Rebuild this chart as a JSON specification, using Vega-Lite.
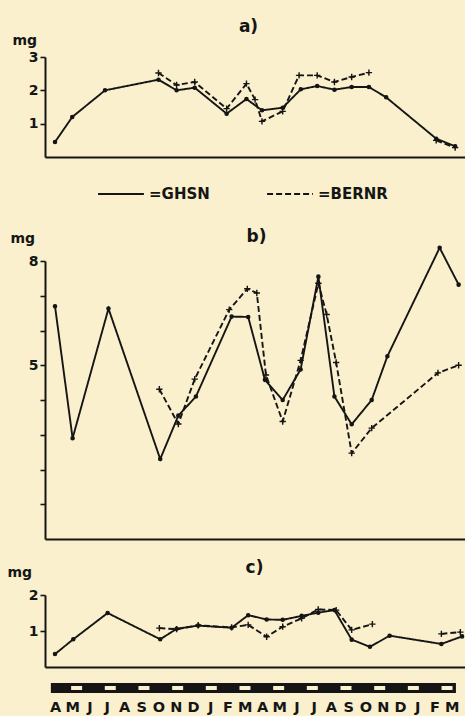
{
  "$schema": "https://vega.github.io/schema/vega-lite/v6.json",
  "width": 420,
  "height": 667,
  "autosize": {"type": "none"},
  "padding": {"left": 45, "top": 0, "right": 0, "bottom": 49},
  "background": "#faf0cd",
  "config": {
    "view": {"stroke": null},
    "font": "DejaVu Sans",
    "axis": {
      "domainColor": "#151515", "domainWidth": 2, "tickColor": "#151515", "tickWidth": 1.6, "tickSize": 5,
      "labelColor": "#151515", "labelFont": "DejaVu Sans", "labelFontWeight": "bold", "labelFontSize": 14,
      "labelPadding": 2, "titleColor": "#151515", "titleFont": "DejaVu Sans", "titleFontWeight": "bold", "grid": false
    }
  },
  "datasets": {
    "obs": [
      {"panel": "a", "series": "GHSN", "run": 1, "m": 0, "v": 0.45},
      {"panel": "a", "series": "GHSN", "run": 1, "m": 1.0, "v": 1.2},
      {"panel": "a", "series": "GHSN", "run": 1, "m": 2.9, "v": 2.0},
      {"panel": "a", "series": "GHSN", "run": 1, "m": 6.0, "v": 2.32},
      {"panel": "a", "series": "GHSN", "run": 1, "m": 7.05, "v": 2.0},
      {"panel": "a", "series": "GHSN", "run": 1, "m": 8.1, "v": 2.08},
      {"panel": "a", "series": "GHSN", "run": 1, "m": 9.95, "v": 1.3},
      {"panel": "a", "series": "GHSN", "run": 1, "m": 11.1, "v": 1.74},
      {"panel": "a", "series": "GHSN", "run": 1, "m": 12.0, "v": 1.4},
      {"panel": "a", "series": "GHSN", "run": 1, "m": 13.2, "v": 1.48},
      {"panel": "a", "series": "GHSN", "run": 1, "m": 14.25, "v": 2.03},
      {"panel": "a", "series": "GHSN", "run": 1, "m": 15.2, "v": 2.13},
      {"panel": "a", "series": "GHSN", "run": 1, "m": 16.2, "v": 2.02},
      {"panel": "a", "series": "GHSN", "run": 1, "m": 17.2, "v": 2.1},
      {"panel": "a", "series": "GHSN", "run": 1, "m": 18.2, "v": 2.1},
      {"panel": "a", "series": "GHSN", "run": 1, "m": 19.2, "v": 1.79},
      {"panel": "a", "series": "GHSN", "run": 1, "m": 22.1, "v": 0.55},
      {"panel": "a", "series": "GHSN", "run": 1, "m": 23.2, "v": 0.32},
      {"panel": "a", "series": "BERNR", "run": 1, "m": 6.0, "v": 2.52},
      {"panel": "a", "series": "BERNR", "run": 1, "m": 7.05, "v": 2.16},
      {"panel": "a", "series": "BERNR", "run": 1, "m": 8.1, "v": 2.25},
      {"panel": "a", "series": "BERNR", "run": 1, "m": 9.95, "v": 1.45},
      {"panel": "a", "series": "BERNR", "run": 1, "m": 11.1, "v": 2.2},
      {"panel": "a", "series": "BERNR", "run": 1, "m": 11.6, "v": 1.72},
      {"panel": "a", "series": "BERNR", "run": 1, "m": 12.0, "v": 1.07},
      {"panel": "a", "series": "BERNR", "run": 1, "m": 13.2, "v": 1.37},
      {"panel": "a", "series": "BERNR", "run": 1, "m": 14.15, "v": 2.45},
      {"panel": "a", "series": "BERNR", "run": 1, "m": 15.2, "v": 2.45},
      {"panel": "a", "series": "BERNR", "run": 1, "m": 16.2, "v": 2.25},
      {"panel": "a", "series": "BERNR", "run": 1, "m": 17.2, "v": 2.4},
      {"panel": "a", "series": "BERNR", "run": 1, "m": 18.2, "v": 2.53},
      {"panel": "a", "series": "BERNR", "run": 2, "m": 22.1, "v": 0.5},
      {"panel": "a", "series": "BERNR", "run": 2, "m": 23.2, "v": 0.28},

      {"panel": "b", "series": "GHSN", "run": 1, "m": 0, "v": 6.7},
      {"panel": "b", "series": "GHSN", "run": 1, "m": 1.02, "v": 2.9},
      {"panel": "b", "series": "GHSN", "run": 1, "m": 3.1, "v": 6.63},
      {"panel": "b", "series": "GHSN", "run": 1, "m": 6.1, "v": 2.3},
      {"panel": "b", "series": "GHSN", "run": 1, "m": 7.15, "v": 3.55},
      {"panel": "b", "series": "GHSN", "run": 1, "m": 8.17, "v": 4.1},
      {"panel": "b", "series": "GHSN", "run": 1, "m": 10.24, "v": 6.4},
      {"panel": "b", "series": "GHSN", "run": 1, "m": 11.2, "v": 6.39},
      {"panel": "b", "series": "GHSN", "run": 1, "m": 12.17, "v": 4.58},
      {"panel": "b", "series": "GHSN", "run": 1, "m": 13.2, "v": 4.0},
      {"panel": "b", "series": "GHSN", "run": 1, "m": 14.24, "v": 4.88},
      {"panel": "b", "series": "GHSN", "run": 1, "m": 15.27, "v": 7.55},
      {"panel": "b", "series": "GHSN", "run": 1, "m": 16.2, "v": 4.1},
      {"panel": "b", "series": "GHSN", "run": 1, "m": 17.2, "v": 3.3},
      {"panel": "b", "series": "GHSN", "run": 1, "m": 18.36, "v": 4.0},
      {"panel": "b", "series": "GHSN", "run": 1, "m": 19.27, "v": 5.26},
      {"panel": "b", "series": "GHSN", "run": 1, "m": 22.3, "v": 8.38},
      {"panel": "b", "series": "GHSN", "run": 1, "m": 23.4, "v": 7.32},
      {"panel": "b", "series": "BERNR", "run": 1, "m": 6.05, "v": 4.31},
      {"panel": "b", "series": "BERNR", "run": 1, "m": 7.15, "v": 3.31},
      {"panel": "b", "series": "BERNR", "run": 1, "m": 8.1, "v": 4.6},
      {"panel": "b", "series": "BERNR", "run": 1, "m": 10.1, "v": 6.6},
      {"panel": "b", "series": "BERNR", "run": 1, "m": 11.15, "v": 7.2},
      {"panel": "b", "series": "BERNR", "run": 1, "m": 11.7, "v": 7.08},
      {"panel": "b", "series": "BERNR", "run": 1, "m": 12.23, "v": 4.72},
      {"panel": "b", "series": "BERNR", "run": 1, "m": 13.2, "v": 3.38},
      {"panel": "b", "series": "BERNR", "run": 1, "m": 14.24, "v": 5.14},
      {"panel": "b", "series": "BERNR", "run": 1, "m": 15.27, "v": 7.36},
      {"panel": "b", "series": "BERNR", "run": 1, "m": 15.75, "v": 6.46},
      {"panel": "b", "series": "BERNR", "run": 1, "m": 16.3, "v": 5.08},
      {"panel": "b", "series": "BERNR", "run": 1, "m": 17.2, "v": 2.47},
      {"panel": "b", "series": "BERNR", "run": 1, "m": 18.36, "v": 3.19},
      {"panel": "b", "series": "BERNR", "run": 1, "m": 22.2, "v": 4.78},
      {"panel": "b", "series": "BERNR", "run": 1, "m": 23.4, "v": 5.0},

      {"panel": "c", "series": "GHSN", "run": 1, "m": 0, "v": 0.36},
      {"panel": "c", "series": "GHSN", "run": 1, "m": 1.06, "v": 0.77},
      {"panel": "c", "series": "GHSN", "run": 1, "m": 3.05, "v": 1.5},
      {"panel": "c", "series": "GHSN", "run": 1, "m": 6.1, "v": 0.77},
      {"panel": "c", "series": "GHSN", "run": 1, "m": 7.05, "v": 1.06},
      {"panel": "c", "series": "GHSN", "run": 1, "m": 8.3, "v": 1.15},
      {"panel": "c", "series": "GHSN", "run": 1, "m": 10.24, "v": 1.09},
      {"panel": "c", "series": "GHSN", "run": 1, "m": 11.2, "v": 1.44},
      {"panel": "c", "series": "GHSN", "run": 1, "m": 12.27, "v": 1.32},
      {"panel": "c", "series": "GHSN", "run": 1, "m": 13.2, "v": 1.31},
      {"panel": "c", "series": "GHSN", "run": 1, "m": 14.3, "v": 1.42},
      {"panel": "c", "series": "GHSN", "run": 1, "m": 15.26, "v": 1.51},
      {"panel": "c", "series": "GHSN", "run": 1, "m": 16.2, "v": 1.58},
      {"panel": "c", "series": "GHSN", "run": 1, "m": 17.2, "v": 0.76},
      {"panel": "c", "series": "GHSN", "run": 1, "m": 18.26, "v": 0.56},
      {"panel": "c", "series": "GHSN", "run": 1, "m": 19.4, "v": 0.87},
      {"panel": "c", "series": "GHSN", "run": 1, "m": 22.4, "v": 0.64},
      {"panel": "c", "series": "GHSN", "run": 1, "m": 23.6, "v": 0.85},
      {"panel": "c", "series": "BERNR", "run": 1, "m": 6.05, "v": 1.08},
      {"panel": "c", "series": "BERNR", "run": 1, "m": 7.05, "v": 1.05},
      {"panel": "c", "series": "BERNR", "run": 1, "m": 8.3, "v": 1.16},
      {"panel": "c", "series": "BERNR", "run": 1, "m": 10.24, "v": 1.1},
      {"panel": "c", "series": "BERNR", "run": 1, "m": 11.2, "v": 1.17},
      {"panel": "c", "series": "BERNR", "run": 1, "m": 12.27, "v": 0.84},
      {"panel": "c", "series": "BERNR", "run": 1, "m": 13.2, "v": 1.12},
      {"panel": "c", "series": "BERNR", "run": 1, "m": 14.3, "v": 1.35},
      {"panel": "c", "series": "BERNR", "run": 1, "m": 15.26, "v": 1.6},
      {"panel": "c", "series": "BERNR", "run": 1, "m": 16.3, "v": 1.58},
      {"panel": "c", "series": "BERNR", "run": 1, "m": 17.2, "v": 1.03},
      {"panel": "c", "series": "BERNR", "run": 1, "m": 18.4, "v": 1.19},
      {"panel": "c", "series": "BERNR", "run": 2, "m": 22.4, "v": 0.92},
      {"panel": "c", "series": "BERNR", "run": 2, "m": 23.5, "v": 0.97}
    ],
    "months": [
      {"idx": 0}, {"idx": 1}, {"idx": 2}, {"idx": 3}, {"idx": 4}, {"idx": 5},
      {"idx": 6}, {"idx": 7}, {"idx": 8}, {"idx": 9}, {"idx": 10}, {"idx": 11},
      {"idx": 12}, {"idx": 13}, {"idx": 14}, {"idx": 15}, {"idx": 16}, {"idx": 17},
      {"idx": 18}, {"idx": 19}, {"idx": 20}, {"idx": 21}, {"idx": 22}, {"idx": 23}
    ]
  },
  "layer": [
    {
      "data": {"name": "obs"},
      "transform": [{"filter": "datum.panel == 'a'"}],
      "encoding": {
        "x": {"field": "m", "type": "quantitative",
          "scale": {"domain": [-0.58, 23.77], "nice": false, "zero": false},
          "axis": {"orient": "bottom", "offset": -510, "labels": false, "ticks": false,
            "title": "a)", "titleX": 203, "titleY": -126, "titleAlign": "center", "titleBaseline": "alphabetic", "titleFontSize": 17}},
        "y": {"field": "v", "type": "quantitative",
          "scale": {"domain": [0, 3], "range": [157, 57], "nice": false, "zero": false},
          "axis": {"orient": "left", "values": [1, 2, 3], "title": "mg", "titleAngle": 0, "titleX": -33, "titleY": 44,
            "titleAlign": "left", "titleBaseline": "alphabetic", "titleFontSize": 14}}
      },
      "layer": [
        {"mark": {"type": "line", "color": "#151515", "strokeWidth": 1.9},
          "encoding": {
            "strokeDash": {"field": "series", "type": "nominal",
              "scale": {"domain": ["GHSN", "BERNR"], "range": [[1, 0], [6, 3]]},
              "legend": {"title": null, "orient": "none", "legendX": 52, "legendY": 170, "direction": "horizontal",
                "symbolType": "stroke", "symbolSize": 2100, "symbolStrokeWidth": 2, "symbolStrokeColor": "#151515",
                "labelFontSize": 15, "labelFontWeight": "bold", "labelColor": "#151515", "labelOffset": 4,
                "labelExpr": "'=' + datum.label", "columnPadding": 53, "padding": 0}},
            "detail": {"field": "run"}}},
        {"transform": [{"filter": "datum.series == 'GHSN'"}],
          "mark": {"type": "point", "shape": "circle", "size": 10, "fill": "#151515", "stroke": "#151515", "strokeWidth": 1.4, "opacity": 1}},
        {"transform": [{"filter": "datum.series == 'BERNR'"}],
          "mark": {"type": "point", "shape": "M-1,0H1M0,-1V1", "size": 40, "stroke": "#151515", "strokeWidth": 1.4, "opacity": 1}}
      ]
    },
    {
      "data": {"name": "obs"},
      "transform": [{"filter": "datum.panel == 'b'"}],
      "encoding": {
        "x": {"field": "m", "type": "quantitative",
          "scale": {"domain": [-0.58, 23.77], "nice": false, "zero": false},
          "axis": {"orient": "bottom", "offset": -128, "labels": false, "ticks": false,
            "title": "b)", "titleX": 211, "titleY": -298, "titleAlign": "center", "titleBaseline": "alphabetic", "titleFontSize": 17}},
        "y": {"field": "v", "type": "quantitative",
          "scale": {"domain": [0, 8], "range": [539, 261], "nice": false, "zero": false},
          "axis": {"orient": "left", "values": [1, 2, 3, 4, 5, 6, 7, 8],
            "labelExpr": "datum.value == 5 || datum.value == 8 ? datum.label : ''",
            "title": "mg", "titleAngle": 0, "titleX": -35, "titleY": 242,
            "titleAlign": "left", "titleBaseline": "alphabetic", "titleFontSize": 14}}
      },
      "layer": [
        {"mark": {"type": "line", "color": "#151515", "strokeWidth": 1.9},
          "encoding": {
            "strokeDash": {"field": "series", "type": "nominal",
              "scale": {"domain": ["GHSN", "BERNR"], "range": [[1, 0], [6, 3]]}},
            "detail": {"field": "run"}}},
        {"transform": [{"filter": "datum.series == 'GHSN'"}],
          "mark": {"type": "point", "shape": "circle", "size": 10, "fill": "#151515", "stroke": "#151515", "strokeWidth": 1.4, "opacity": 1}},
        {"transform": [{"filter": "datum.series == 'BERNR'"}],
          "mark": {"type": "point", "shape": "M-1,0H1M0,-1V1", "size": 40, "stroke": "#151515", "strokeWidth": 1.4, "opacity": 1}}
      ]
    },
    {
      "data": {"name": "obs"},
      "transform": [{"filter": "datum.panel == 'c'"}],
      "encoding": {
        "x": {"field": "m", "type": "quantitative",
          "scale": {"domain": [-0.58, 23.77], "nice": false, "zero": false},
          "axis": {"orient": "bottom", "offset": 0, "ticks": false, "tickSize": 0,
            "values": [0, 1, 2, 3, 4, 5, 6, 7, 8, 9, 10, 11, 12, 13, 14, 15, 16, 17, 18, 19, 20, 21, 22, 23],
            "labelExpr": "['A','M','J','J','A','S','O','N','D','J','F','M'][datum.value % 12]",
            "labelPadding": 44, "labelBaseline": "alphabetic", "labelFontSize": 14.5, "labelOverlap": false, "labelFlush": false,
            "title": "c)", "titleX": 209, "titleY": -95, "titleAlign": "center", "titleBaseline": "alphabetic", "titleFontSize": 17}},
        "y": {"field": "v", "type": "quantitative",
          "scale": {"domain": [0, 2], "range": [667, 595], "nice": false, "zero": false},
          "axis": {"orient": "left", "values": [1, 2], "title": "mg", "titleAngle": 0, "titleX": -38, "titleY": 576,
            "titleAlign": "left", "titleBaseline": "alphabetic", "titleFontSize": 14}}
      },
      "layer": [
        {"mark": {"type": "line", "color": "#151515", "strokeWidth": 1.9},
          "encoding": {
            "strokeDash": {"field": "series", "type": "nominal",
              "scale": {"domain": ["GHSN", "BERNR"], "range": [[1, 0], [6, 3]]}},
            "detail": {"field": "run"}}},
        {"transform": [{"filter": "datum.series == 'GHSN'"}],
          "mark": {"type": "point", "shape": "circle", "size": 10, "fill": "#151515", "stroke": "#151515", "strokeWidth": 1.4, "opacity": 1}},
        {"transform": [{"filter": "datum.series == 'BERNR'"}],
          "mark": {"type": "point", "shape": "M-1,0H1M0,-1V1", "size": 40, "stroke": "#151515", "strokeWidth": 1.4, "opacity": 1}}
      ]
    },
    {
      "data": {"name": "months"},
      "encoding": {
        "x": {"field": "idx", "type": "quantitative", "scale": {"domain": [-0.58, 23.77], "nice": false, "zero": false}, "axis": null}
      },
      "layer": [
        {"mark": {"type": "bar", "color": "#151515", "width": 17.8},
          "encoding": {
            "y": {"datum": 0, "type": "quantitative", "scale": {"domain": [0, 1], "range": [693, 683], "nice": false, "zero": false}, "axis": null},
            "y2": {"datum": 1}}},
        {"transform": [{"filter": "datum.idx % 2 == 1"}],
          "mark": {"type": "bar", "color": "#faf0cd", "width": 11},
          "encoding": {
            "y": {"datum": 0.3, "type": "quantitative", "axis": null},
            "y2": {"datum": 0.7}}}
      ]
    }
  ],
  "resolve": {
    "scale": {"x": "independent", "y": "independent"},
    "axis": {"x": "independent", "y": "independent"}
  }
}
